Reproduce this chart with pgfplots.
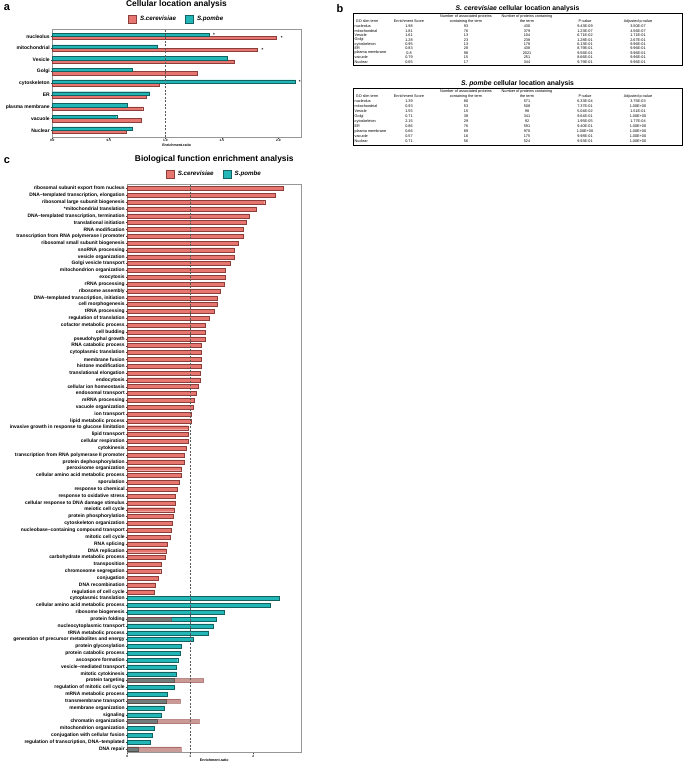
\documentclass[border=0pt]{standalone}
\usepackage{fontspec}
\setmainfont{Liberation Sans}
\usepackage{pgfplots}
\pgfplotsset{compat=1.18}

\definecolor{salm}{RGB}{232,118,112}
\definecolor{salmdk}{RGB}{140,62,58}
\definecolor{salmov}{RGB}{168,86,82}
\definecolor{tealc}{RGB}{34,182,182}
\definecolor{tealdk}{RGB}{18,98,98}
\definecolor{frm}{RGB}{150,150,150}

\newcommand{\fs}[1]{\fontsize{#1}{#1}\selectfont}

\tikzset{refline/.style={dash pattern=on 2pt off 1.5pt, black!65, line width=0.45pt}}

\pgfplotsset{
  enrich/.style={
    scale only axis, xmin=0, clip=false,
    axis line style={frm, line width=0.7pt},
    tick style={black!75, line width=0.35pt},
    tick align=outside, major tick length=1.6pt,
    xtick pos=bottom, ytick pos=left,
    /pgf/number format/assume math mode=true,
    x tick label style={font=\fs{3.2}\bfseries, inner sep=0.6pt},
    xlabel={Enrichment.ratio},
    xlabel style={font=\fs{3.6}\bfseries, inner sep=0pt, at={(axis description cs:0.5,0)}, anchor=north, yshift=-6.4pt},
    legend columns=2,
    legend image code/.code={\draw[#1, line width=0.45pt] (0pt,-4.2pt) rectangle (8.4pt,4.2pt);},
    legend style={draw=none, fill=none, font=\fs{6.2}\bfseries\itshape, inner sep=0pt, anchor=center,
      /tikz/every odd column/.append style={column sep=1.2pt},
      /tikz/every even column/.append style={column sep=7pt}},
  },
}

\begin{document}
\begin{tikzpicture}
\useasboundingbox (0pt,0pt) rectangle (685pt,-763pt);

% ---------- a: cellular location ----------
\node[font=\fs{11}\bfseries] at (7pt,-8pt) {a};
\node[font=\fs{8.4}\bfseries] at (176.5pt,-4pt) {Cellular location analysis};
\begin{axis}[enrich, at={(52.3pt,-29.3pt)}, anchor=north west,
  width=248.7pt, height=108pt, xmax=2.2, ymin=0.4, ymax=9.6,
  xtick={0,0.5,1,1.5,2},
  xticklabel style={/pgf/number format/.cd, fixed, fixed zerofill, precision=1},
  ytick={1,...,9},
  yticklabels={Nuclear,vacuole,plasma membrane,ER,cytoskeleton,Golgi,Vesicle,mitochondrial,nucleolus},
  y tick label style={font=\fs{5}\bfseries, inner sep=0.8pt},
  bar width=3.3pt,
  legend style={at={(axis description cs:0.5,1)}, yshift=10pt}]
\addplot[xbar, bar shift=-1.65pt, fill=salm, draw=salmdk, line width=0.4pt]
  coordinates {(0.65,1) (0.79,2) (0.80,3) (0.83,4) (0.95,5) (1.28,6) (1.61,7) (1.81,8) (1.98,9)};
\addlegendentry{S.cerevisiae}
\addplot[xbar, bar shift=1.65pt, fill=tealc, draw=tealdk, line width=0.4pt]
  coordinates {(0.71,1) (0.57,2) (0.66,3) (0.86,4) (2.15,5) (0.71,6) (1.55,7) (0.93,8) (1.39,9)};
\addlegendentry{S.pombe}
\addplot[forget plot, only marks, mark=text, text mark={\fs{4.5}\bfseries *}]
  coordinates {(1.43,9.12) (2.03,8.84) (1.86,7.84) (2.19,5.12)};
\draw[refline] (axis cs:1,0.4) -- (axis cs:1,9.6);
\end{axis}

% ---------- b: tables ----------
\node[font=\fs{11}\bfseries] at (340pt,-9pt) {b};
\begin{scope}[every node/.style={font=\fs{3.8}, inner sep=0pt}]
\node[font=\fs{6.8}\bfseries] at (517.5pt,-8.5pt) {\textit{S. cerevisiae} cellular location analysis};
\draw[line width=0.9pt] (353pt,-13pt) rectangle (682pt,-65pt);
\node at (466pt,-16.5pt) {Number of associated proteins};
\node at (527pt,-16.5pt) {Number of proteins containing};
\node at (367pt,-21.5pt) {GO slim term};
\node at (409pt,-21.5pt) {Enrichment Score};
\node at (466pt,-21.5pt) {containing the term};
\node at (527pt,-21.5pt) {the term};
\node at (585pt,-21.5pt) {P-value};
\node at (638pt,-21.5pt) {Adjusted p-value};
\foreach \n/\e/\a/\b/\p/\q [count=\i from 0] in {
  nucleolus/1.98/93/430/9.43E-09/3.50E-07,
  mitochondrial/1.81/76/379/1.23E-07/4.56E-07,
  Vesicle/1.61/13/104/6.71E-02/1.71E-01,
  Golgi/1.28/23/238/1.28E-01/2.67E-01,
  cytoskeleton/0.95/13/178/6.13E-01/9.96E-01,
  ER/0.83/28/438/8.79E-01/9.96E-01,
  plasma membrane/0.8/98/2021/9.56E-01/9.96E-01,
  vacuole/0.79/15/251/8.66E-01/9.96E-01,
  Nuclear/0.65/17/344/9.79E-01/9.96E-01}{
  \node[anchor=west] at (354.5pt,{-(26.5+4.4*\i)*1pt}) {\n};
  \node at (409pt,{-(26.5+4.4*\i)*1pt}) {\e};
  \node at (466pt,{-(26.5+4.4*\i)*1pt}) {\a};
  \node at (527pt,{-(26.5+4.4*\i)*1pt}) {\b};
  \node at (585pt,{-(26.5+4.4*\i)*1pt}) {\p};
  \node at (638pt,{-(26.5+4.4*\i)*1pt}) {\q};
}
\node[font=\fs{6.8}\bfseries] at (517.5pt,-83.5pt) {\textit{S. pombe} cellular location analysis};
\draw[line width=0.9pt] (353pt,-88pt) rectangle (682pt,-145.5pt);
\node at (466pt,-91.5pt) {Number of associated proteins};
\node at (527pt,-91.5pt) {Number of proteins containing};
\node at (367pt,-96.5pt) {GO slim term};
\node at (409pt,-96.5pt) {Enrichment Score};
\node at (466pt,-96.5pt) {containing the term};
\node at (527pt,-96.5pt) {the term};
\node at (585pt,-96.5pt) {P-value};
\node at (638pt,-96.5pt) {Adjusted p-value};
\foreach \n/\e/\a/\b/\p/\q [count=\i from 0] in {
  nucleolus/1.39/80/571/6.33E-04/3.75E-03,
  mitochondrial/0.93/53/508/7.37E-01/1.00E+00,
  Vesicle/1.55/15/98/5.04E-02/1.51E-01,
  Golgi/0.71/38/341/9.64E-01/1.00E+00,
  cytoskeleton/2.15/29/92/1.95E-05/1.77E-04,
  ER/0.86/76/591/9.40E-01/1.00E+00,
  plasma membrane/0.66/89/970/1.00E+00/1.00E+00,
  vacuole/0.57/16/175/9.98E-01/1.00E+00,
  Nuclear/0.71/56/524/9.93E-01/1.00E+00}{
  \node[anchor=west] at (354.5pt,{-(101.5+5.0*\i)*1pt}) {\n};
  \node at (409pt,{-(101.5+5.0*\i)*1pt}) {\e};
  \node at (466pt,{-(101.5+5.0*\i)*1pt}) {\a};
  \node at (527pt,{-(101.5+5.0*\i)*1pt}) {\b};
  \node at (585pt,{-(101.5+5.0*\i)*1pt}) {\p};
  \node at (638pt,{-(101.5+5.0*\i)*1pt}) {\q};
}
\end{scope}

% ---------- c: biological function ----------
\node[font=\fs{11}\bfseries] at (7pt,-161pt) {c};
\node[font=\fs{8.4}\bfseries] at (214.3pt,-159pt) {Biological function enrichment analysis};
\begin{axis}[enrich, at={(127.3pt,-184.7pt)}, anchor=north west,
  width=174pt, height=568pt, xmax=2.76, ymin=0.45, ymax=83.55, y dir=reverse,
  xtick={0,1,2},
  ytick={1,...,83},
  yticklabels={
    ribosomal subunit export from nucleus,
    {DNA--templated transcription, elongation},
    ribosomal large subunit biogenesis,
    *mitochondrial translation,
    {DNA--templated transcription, termination},
    translational initiation,
    RNA modification,
    transcription from RNA polymerase I promoter,
    ribosomal small subunit biogenesis,
    snoRNA processing,
    vesicle organization,
    Golgi vesicle transport,
    mitochondrion organization,
    exocytosis,
    rRNA processing,
    ribosome assembly,
    {DNA--templated transcription, initiation},
    cell morphogenesis,
    tRNA processing,
    regulation of translation,
    cofactor metabolic process,
    cell budding,
    pseudohyphal growth,
    RNA catabolic process,
    cytoplasmic translation,
    membrane fusion,
    histone modification,
    translational elongation,
    endocytosis,
    cellular ion homeostasis,
    endosomal transport,
    mRNA processing,
    vacuole organization,
    ion transport,
    lipid metabolic process,
    invasive growth in response to glucose limitation,
    lipid transport,
    cellular respiration,
    cytokinesis,
    transcription from RNA polymerase II promoter,
    protein dephosphorylation,
    peroxisome organization,
    cellular amino acid metabolic process,
    sporulation,
    response to chemical,
    response to oxidative stress,
    cellular response to DNA damage stimulus,
    meiotic cell cycle,
    protein phosphorylation,
    cytoskeleton organization,
    nucleobase--containing compound transport,
    mitotic cell cycle,
    RNA splicing,
    DNA replication,
    carbohydrate metabolic process,
    transposition,
    chromosome segregation,
    conjugation,
    DNA recombination,
    regulation of cell cycle,
    cytoplasmic translation,
    cellular amino acid metabolic process,
    ribosome biogenesis,
    protein folding,
    nucleocytoplasmic transport,
    tRNA metabolic process,
    generation of precursor metabolites and energy,
    protein glycosylation,
    protein catabolic process,
    ascospore formation,
    vesicle--mediated transport,
    mitotic cytokinesis,
    protein targeting,
    regulation of mitotic cell cycle,
    mRNA metabolic process,
    transmembrane transport,
    membrane organization,
    signaling,
    chromatin organization,
    mitochondrion organization,
    conjugation with cellular fusion,
    {regulation of transcription, DNA--templated},
    DNA repair},
  y tick label style={font=\fs{4.9}\bfseries, inner sep=0.8pt},
  bar width=4pt,
  legend style={at={(axis description cs:0.5,1)}, yshift=10.4pt}]
\addplot[xbar, bar shift=0pt, fill=salm, draw=salmdk, line width=0.4pt] coordinates {
  (2.48,1) (2.34,2) (2.18,3) (2.05,4) (1.94,5) (1.89,6) (1.84,7) (1.84,8) (1.76,9) (1.70,10)
  (1.70,11) (1.64,12) (1.56,13) (1.55,14) (1.53,15) (1.48,16) (1.42,17) (1.42,18) (1.38,19) (1.30,20)
  (1.24,21) (1.24,22) (1.24,23) (1.18,24) (1.18,25) (1.18,26) (1.17,27) (1.16,28) (1.15,29) (1.13,30)
  (1.10,31) (1.06,32) (1.04,33) (1.01,34) (1.01,35) (0.97,36) (0.96,37) (0.96,38) (0.94,39) (0.91,40)
  (0.91,41) (0.86,42) (0.85,43) (0.82,44) (0.79,45) (0.76,46) (0.76,47) (0.74,48) (0.73,49) (0.71,50)
  (0.70,51) (0.68,52) (0.63,53) (0.61,54) (0.60,55) (0.54,56) (0.53,57) (0.49,58) (0.45,59) (0.43,60)};
\addlegendentry{S.cerevisiae}
\addplot[xbar, bar shift=0pt, fill=tealc, draw=tealdk, line width=0.4pt] coordinates {
  (2.41,61) (2.27,62) (1.53,63) (1.41,64) (1.37,65) (1.29,66) (1.05,67) (0.85,68) (0.84,69) (0.80,70)
  (0.77,71) (0.77,72) (0.75,73) (0.74,74) (0.63,75) (0.62,76) (0.59,77) (0.54,78) (0.47,79) (0.43,80)
  (0.40,81) (0.37,82) (0.17,83)};
\addlegendentry{S.pombe}
\addplot[forget plot, xbar, bar shift=0pt, fill=salmov, fill opacity=0.6, draw=salmdk, draw opacity=0.5, line width=0.4pt]
  coordinates {(0.70,64) (1.21,73) (0.84,76) (1.14,79) (0.85,83)};
\draw[refline] (axis cs:1,0.45) -- (axis cs:1,83.55);
\end{axis}
\end{tikzpicture}
\end{document}
